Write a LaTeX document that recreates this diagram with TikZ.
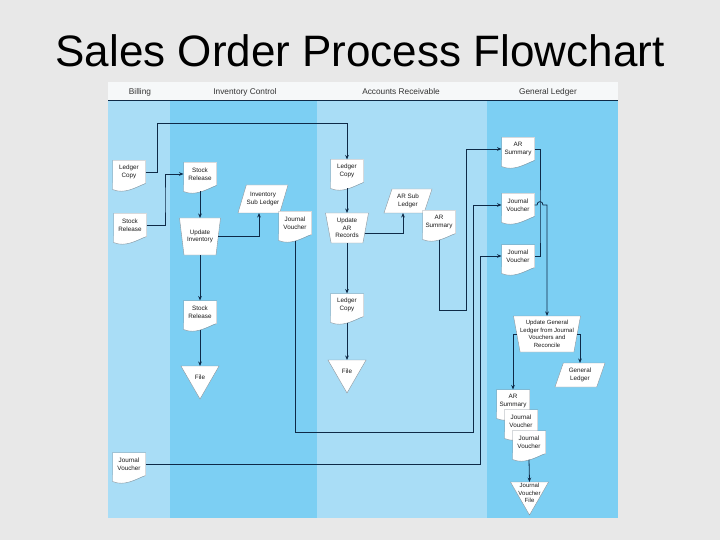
\documentclass[tikz,border=0pt]{standalone}
\usepackage{fontspec}
\setmainfont{Liberation Sans}
\usetikzlibrary{arrows.meta,shapes.geometric}
\definecolor{bgray}{HTML}{E8E8E8}
\definecolor{laneL}{HTML}{A9DDF6}
\definecolor{laneD}{HTML}{7CCFF3}
\definecolor{hdr}{HTML}{F6F8F9}
\definecolor{ink}{HTML}{0E2A47}
\definecolor{edgeg}{HTML}{8C959C}
\definecolor{txt}{HTML}{1A1A1A}
\definecolor{hdrink}{HTML}{333333}
\newcommand\nodefont{\fontsize{6.3}{7.5}\selectfont}
\newcommand\DocShape[3]{%
  \node[docbody] (#1) at (#2) {#3};
  \fill[white] ([yshift=0.5pt]#1.south west) -- ++(0pt,-6.5pt) .. controls +(12pt,-5pt) and +(-10pt,-4pt) .. ([yshift=0.5pt]#1.south east) -- cycle;
  \draw[docline] (#1.south east) -- (#1.north east) -- (#1.north west) -- (#1.south west) -- ++(0pt,-6pt) .. controls +(12pt,-5pt) and +(-10pt,-4pt) .. (#1.south east);
}
\begin{document}
\begin{tikzpicture}[x=1pt,y=-1pt,
  docbody/.style={rectangle, fill=white, minimum width=33pt, minimum height=23pt, inner sep=0pt, outer sep=0pt, align=center, font=\nodefont, text=txt},
  docline/.style={draw=edgeg, line width=0.4pt},
  procbox/.style={trapezium, trapezium stretches=true, shape border rotate=180, fill=white, draw=edgeg, line width=0.4pt, inner sep=1pt, outer sep=0pt},
  storebox/.style={trapezium, trapezium stretches=true, trapezium left angle=76, trapezium right angle=104, fill=white, draw=edgeg, line width=0.4pt, inner sep=1pt, outer sep=0pt, minimum height=24pt},
  filetri/.style={regular polygon, regular polygon sides=3, shape border rotate=180, minimum size=44pt, fill=white, draw=edgeg, line width=0.4pt, inner sep=1pt, outer sep=0pt},
  lbl/.style={align=center, font=\nodefont, text=txt, inner sep=0pt},
  hdrtxt/.style={font=\fontsize{8.3}{10}\selectfont, text=hdrink, anchor=base, inner sep=0pt},
  conn/.style={draw=ink, line width=0.8pt},
  arr/.style={conn, -{Stealth[length=4.5pt,width=3.6pt]}},
]
\fill[bgray] (0,0) rectangle (720,540);
\useasboundingbox (0,0) rectangle (720,540);
% title
\node[font=\fontsize{44}{50}\selectfont, anchor=base, inner sep=0pt] (title) at (360,67) {Sales Order Process Flowchart};
% lanes
\fill[hdr] (108,82) rectangle (618,100);
\fill[laneL] (108,100) rectangle (170,518);
\fill[laneD] (170,100) rectangle (317,518);
\fill[laneL] (317,100) rectangle (487,518);
\fill[laneD] (487,100) rectangle (618,518);
\draw[ink, line width=0.8pt] (108,100.4) -- (618,100.4);
\node[hdrtxt] (hB) at (140,95) {Billing};
\node[hdrtxt] (hI) at (245,95) {Inventory Control};
\node[hdrtxt] (hA) at (401,95) {Accounts Receivable};
\node[hdrtxt] (hG) at (548,95) {General Ledger};
% Billing
\DocShape{lcB}{129,172}{Ledger\\Copy}
\DocShape{srB}{130,225}{Stock\\Release}
\DocShape{jvB}{129,464}{Journal\\Voucher}
% Inventory control
\DocShape{srI}{200,174}{Stock\\Release}
\node[procbox, trapezium left angle=82, trapezium right angle=82, minimum width=41pt, minimum height=37pt] (uI) at (200,236.5) {};
\node[lbl] (uIT) at (uI.center) {Update\\Inventory};
\node[storebox, minimum width=50pt, minimum height=28pt] (isl) at (263,199) {};
\node[lbl] (islT) at (isl.center) {Inventory\\Sub Ledger};
\DocShape{jvI}{295,223}{Journal\\Voucher}
\DocShape{srI2}{200,312}{Stock\\Release}
\node[filetri] (fI) at (200,377) {};
\node[lbl] (fIT) at (fI.center) {File};
% Accounts receivable
\DocShape{lcAR}{347,171}{Ledger\\Copy}
\node[procbox, trapezium left angle=80, trapezium right angle=80, minimum width=43pt, minimum height=30pt] (uAR) at (347,228) {};
\node[lbl] (uART) at (uAR.center) {Update\\AR\\Records};
\node[storebox, minimum width=48pt] (arsl) at (408,201) {};
\node[lbl] (arslT) at (arsl.center) {AR Sub\\Ledger};
\DocShape{arsum}{439,222}{AR\\Summary}
\DocShape{lc2}{347,305}{Ledger\\Copy}
\node[filetri] (fAR) at (347,371) {};
\node[lbl] (fART) at (fAR.center) {File};
% General ledger
\DocShape{arsG}{518,149}{AR\\Summary}
\DocShape{jvG1}{518,205}{Journal\\Voucher}
\DocShape{jvG2}{518,256}{Journal\\Voucher}
\node[procbox, trapezium left angle=83, trapezium right angle=83, minimum width=67pt, minimum height=36pt] (uGL) at (547,334) {};
\node[lbl, font=\fontsize{6}{7.6}\selectfont] (uGLT) at (uGL.center) {Update General\\Ledger from Journal\\Vouchers and\\Reconcile};
\node[storebox, minimum width=50pt] (glL) at (580,375) {};
\node[lbl] (glLT) at (glL.center) {General\\Ledger};
\DocShape{arS}{513,401}{AR\\Summary}
\DocShape{jvS1}{521,421}{Journal\\Voucher}
\DocShape{jvS2}{529,442}{Journal\\Voucher}
\node[filetri] (fGL) at (529.5,493) {};
\node[lbl, font=\fontsize{6}{7.6}\selectfont] (fGLT) at (fGL.center) {Journal\\Voucher\\File};
% connectors
\draw[arr] (lcB.east) -| (157,123) -| (lcAR.north);
\draw[arr] (srB.east) -| (165,200) |- (srI.west);
\draw[arr] ([yshift=-6pt]srI.south) -- (uI.90);
\draw[arr] (uI.0) -| ([xshift=-4pt]isl.270);
\draw[arr] (uI.270) -- (srI2.north);
\draw[arr] ([yshift=-6pt]srI2.south) -- (fI.90);
\draw[arr] ([yshift=-6pt]jvI.south) |- (473,432) |- (jvG1.west);
\draw[arr] ([yshift=-6pt]lcAR.south) -- (uAR.90);
\draw[arr] (uAR.-17) -| ([xshift=-5pt]arsl.270);
\draw[arr] (uAR.270) -- (lc2.north);
\draw[arr] ([yshift=-6pt]lc2.south) -- (fAR.90);
\draw[arr] ([yshift=-6pt]arsum.south) |- (466,310) |- (arsG.west);
\draw[arr] (jvB.east) -| (480,256) |- (jvG2.west);
\draw[conn] (arsG.east) -| (540,230) |- (jvG2.east);
\draw[arr] (jvG1.east) -- (537,205) .. controls (537,200.5) and (543,200.5) .. (543,205) -| (uGL.90);
\draw[arr] (uGL.180) -| (arS.north);
\draw[arr] (uGL.0) -| (glL.90);
\draw[arr] ([yshift=-6pt]jvS2.south) -- (fGL.90);
\end{tikzpicture}
\end{document}
